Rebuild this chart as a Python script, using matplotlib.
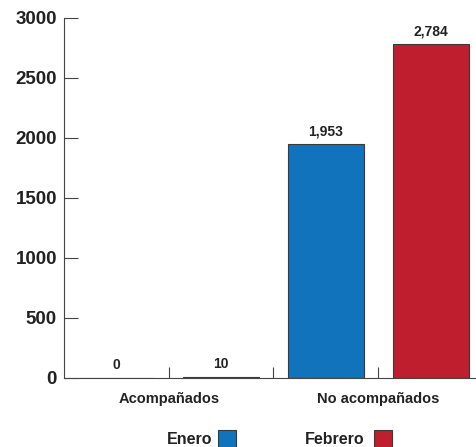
import matplotlib.pyplot as plt
from matplotlib.patches import Rectangle
from matplotlib.transforms import blended_transform_factory

categories = ["Acompañados", "No acompañados"]
series = ["Enero", "Febrero"]
enero = [0, 1953]
febrero = [10, 2784]
yticks = [0, 500, 1000, 1500, 2000, 2500, 3000]

colors = {"Enero": "#1273bd", "Febrero": "#be1e2d"}
edge = "#3a3a3a"

plt.rcParams['font.family'] = ['Liberation Sans', 'DejaVu Sans']
plt.rcParams['font.weight'] = 'bold'

fig = plt.figure(figsize=(4.77, 4.47), dpi=100)
ax = fig.add_axes([64 / 477, 69 / 447, 419 / 477, 360 / 447])

width = 0.726
for i, cat in enumerate(categories):
    for j, (name, vals) in enumerate([("Enero", enero), ("Febrero", febrero)]):
        x = 2 * i + j
        v = vals[i]
        ax.bar(x, v, width=width, color=colors[name], edgecolor=edge, linewidth=0.8)
        ax.annotate(f"{v:,}", (x, v), xytext=(0, 4), textcoords="offset points",
                    ha="center", va="bottom", fontsize=10, fontweight="bold", color="#222222")

ax.set_xlim(-0.5, 3.5)
ax.set_ylim(0, 3000)
ax.set_yticks(yticks)
ax.set_yticklabels([str(t) for t in yticks])

ax.set_xticks([0.5, 1.5, 2.5])
ax.set_xticklabels([])

# category labels centred under each group
trans = blended_transform_factory(ax.transData, fig.transFigure)
for i, cat in enumerate(categories):
    ax.text(2 * i + 0.5, 1 - 399 / 447, cat, transform=trans, ha="center", va="center",
            fontsize=10.5, fontweight="bold", color="#222222")

ax.tick_params(axis="y", direction="in", length=10, width=0.8, color="#444444",
               labelsize=13.5, labelcolor="#222222", pad=5)
ax.tick_params(axis="x", which="major", direction="in", length=8, width=0.8, color="#444444")

for s in ["top", "right"]:
    ax.spines[s].set_visible(False)
for s in ["left", "bottom"]:
    ax.spines[s].set_color("#444444")
    ax.spines[s].set_linewidth(0.8)

# legend at bottom
leg_y = 3 / 447
sq_w, sq_h = 18 / 477, 18 / 447
for name, tx, sx in [("Enero", 212, 218), ("Febrero", 365, 374)]:
    fig.text(tx / 477, leg_y, name, ha="right", va="baseline", fontsize=11.5,
             fontweight="bold", color="#222222")
    fig.patches.append(Rectangle((sx / 477, -1 / 447), sq_w, sq_h, transform=fig.transFigure,
                                 facecolor=colors[name], edgecolor=edge, linewidth=0.8))

fig.savefig("out.png", dpi=100)
